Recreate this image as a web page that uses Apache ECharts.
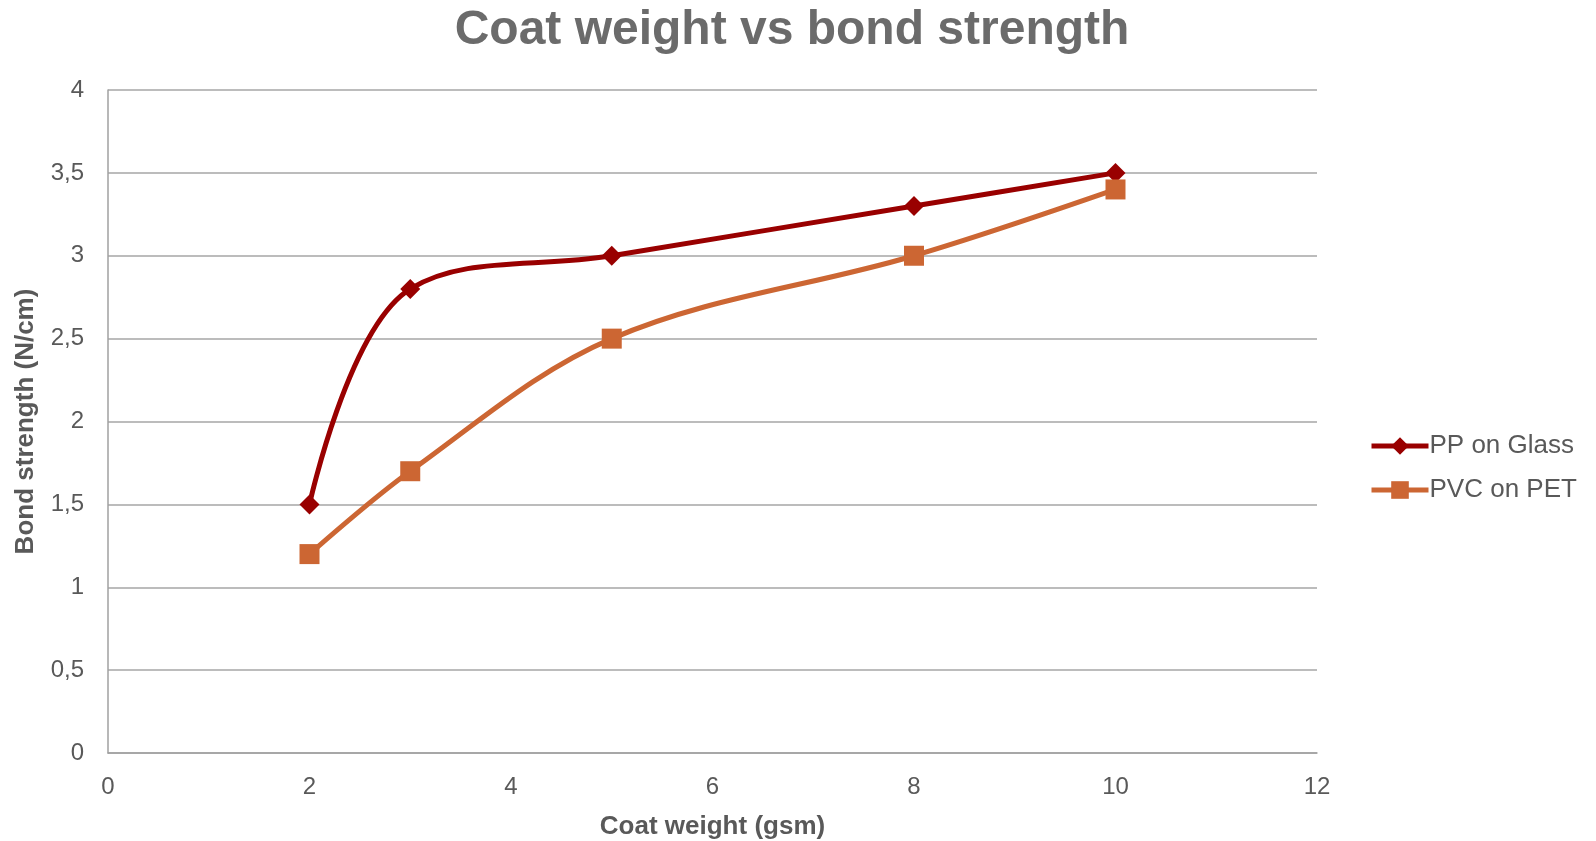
<!DOCTYPE html>
<html><head><meta charset="utf-8">
<script src="https://cdn.jsdelivr.net/npm/echarts@6/dist/echarts.min.js"></script>
<style>html,body{margin:0;padding:0;background:#fff}#c{width:1596px;height:841px}</style>
</head><body><div id="c"></div>
<script>
const xPP = [2, 3, 5, 8, 10];
const yPP = [1.5, 2.8, 3.0, 3.3, 3.5];
const xPVC = [2, 3, 5, 8, 10];
const yPVC = [1.2, 1.7, 2.5, 3.0, 3.4];
const seriesNames = ['PP on Glass', 'PVC on PET'];
const chart = echarts.init(document.getElementById('c'), null, {renderer: 'canvas'});
const fmt = v => String(v).replace('.', ',');
chart.setOption({
  animation: false,
  title: {text: 'Coat weight vs bond strength', left: 787, top: 2, textAlign: 'center',
    textStyle: {fontFamily: 'Liberation Sans', fontWeight: 'bold', fontSize: 48, color: '#6b6b6b'}},
  grid: {left: 108, right: 279, top: 90, bottom: 88, containLabel: false, outerBoundsMode: 'none'},
  legend: {orient: 'vertical', left: 1364, top: 428, itemGap: 18, itemWidth: 57, itemHeight: 22,
    textStyle: {fontFamily: 'Liberation Sans', fontSize: 26, color: '#595959', padding: [0,0,0,-4]},
    lineStyle: {width: 5},
    data: seriesNames},
  xAxis: {type: 'value', min: 0, max: 12, interval: 2,
    name: 'Coat weight (gsm)', nameLocation: 'middle', nameGap: 61,
    nameTextStyle: {fontFamily: 'Liberation Sans', fontWeight: 'bold', fontSize: 26, color: '#595959'},
    axisLine: {show: true, lineStyle: {color: '#a0a0a0', width: 1.5}},
    axisTick: {show: false}, splitLine: {show: false},
    axisLabel: {fontFamily: 'Liberation Sans', fontSize: 24, color: '#595959', margin: 22, formatter: fmt}},
  yAxis: {type: 'value', min: 0, max: 4, interval: 0.5,
    name: 'Bond strength (N/cm)', nameLocation: 'middle', nameGap: 69, nameRotate: 90,
    nameTextStyle: {fontFamily: 'Liberation Sans', fontWeight: 'bold', fontSize: 26, color: '#595959'},
    axisLine: {show: true, lineStyle: {color: '#a0a0a0', width: 1.5}},
    axisTick: {show: false},
    splitLine: {show: true, lineStyle: {color: '#a6a6a6', width: 1.5}},
    axisLabel: {fontFamily: 'Liberation Sans', fontSize: 24, color: '#595959', margin: 24, formatter: fmt}},
  series: [
    {name: seriesNames[0], type: 'line', smooth: 0.38,
     data: xPP.map((x, i) => [x, yPP[i]]),
     symbol: 'diamond', symbolSize: 20,
     lineStyle: {color: '#990000', width: 5}, itemStyle: {color: '#990000'}},
    {name: seriesNames[1], type: 'line', smooth: 0.35,
     data: xPVC.map((x, i) => [x, yPVC[i]]),
     symbol: 'rect', symbolSize: 20,
     lineStyle: {color: '#cc6633', width: 5}, itemStyle: {color: '#cc6633'}}
  ]
});
</script></body></html>
